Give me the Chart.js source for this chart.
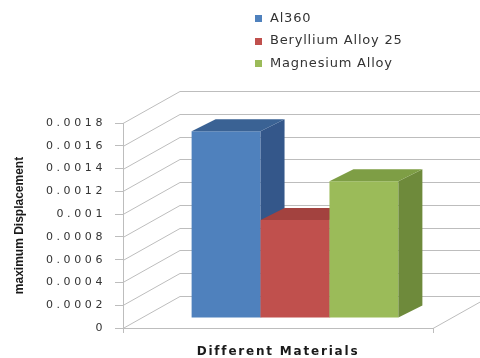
<!DOCTYPE html>
<html>
<head>
<meta charset="utf-8">
<title>Maximum Displacement by Material</title>
<script src="https://cdn.jsdelivr.net/npm/chart.js@4/dist/chart.umd.min.js"></script>
<style>
  html, body { margin: 0; padding: 0; background: #ffffff; }
  #chart { display: block; }
</style>
</head>
<body>
<canvas id="chart" width="480" height="358"></canvas>
<script>
// ---- data ----
const categories = [''];
const seriesNames = ['Al360', 'Beryllium Alloy 25', 'Magnesium Alloy'];
const al360Values = [0.00164];
const berylliumValues = [0.00086];
const magnesiumValues = [0.0012];
const yTickLabels = ['0', '0.0002', '0.0004', '0.0006', '0.0008', '0.001', '0.0012', '0.0014', '0.0016', '0.0018'];

// ---- styling ----
const frontColors = ['#4F81BD', '#C0504D', '#9BBB59'];
const sideColors  = ['#34578A', '#93403D', '#6E8A3B'];
const topColors   = ['#3A6294', '#A3423F', '#7E9E45'];
const gridColor = '#bdbdbd';
const textColor = '#333333';

// oblique projection of the walls and of the bar blocks
const WALL_DX = 57, WALL_DY = -32;   // depth of the plot box
const BAR_DX = 17, BAR_DY = -10;     // bars sit part-way into the box
const DEPTH_DX = 24, DEPTH_DY = -12; // thickness of each bar block

function withSpacing(scale, method, spacing) {
  const key = '_spaced_' + method;
  if (scale[key]) return;
  const original = scale[method];
  scale[method] = function (...args) {
    const ctx = this.ctx;
    ctx.save();
    ctx.letterSpacing = spacing;
    original.apply(this, args);
    ctx.restore();
  };
  scale[key] = true;
}

function drawBlock(ctx, bar, i) {
  const { x, y, base, width } = bar.getProps(['x', 'y', 'base', 'width'], true);
  const l = x - width / 2, r = x + width / 2;
  const top = Math.min(y, base), bottom = Math.max(y, base);
  // front face via the library's own bar element
  bar.draw(ctx);
  // right side face
  ctx.fillStyle = sideColors[i];
  ctx.beginPath();
  ctx.moveTo(r, top);
  ctx.lineTo(r + DEPTH_DX, top + DEPTH_DY);
  ctx.lineTo(r + DEPTH_DX, bottom + DEPTH_DY);
  ctx.lineTo(r, bottom);
  ctx.closePath();
  ctx.fill();
  // top face
  ctx.fillStyle = topColors[i];
  ctx.beginPath();
  ctx.moveTo(l, top);
  ctx.lineTo(l + DEPTH_DX, top + DEPTH_DY);
  ctx.lineTo(r + DEPTH_DX, top + DEPTH_DY);
  ctx.lineTo(r, top);
  ctx.closePath();
  ctx.fill();
}

const boxPlugin = {
  id: 'box3d',
  beforeDraw(chart) {
    withSpacing(chart.scales.y, 'drawLabels', '3.6px');
    withSpacing(chart.scales.x, 'drawTitle', '1.8px');
  },
  beforeDatasetsDraw(chart) {
    const { ctx, chartArea, scales: { y } } = chart;
    const W = chart.width;
    ctx.save();
    ctx.strokeStyle = gridColor;
    ctx.lineWidth = 1;
    // side wall diagonals + back wall grid lines
    y.ticks.forEach(t => {
      const py = Math.round(y.getPixelForValue(t.value)) + 0.5;
      ctx.beginPath();
      ctx.moveTo(chartArea.left, py);
      ctx.lineTo(chartArea.left + WALL_DX, py + WALL_DY);
      ctx.lineTo(W, py + WALL_DY);
      ctx.stroke();
    });
    // right edge of the floor
    const by = Math.round(chartArea.bottom) + 0.5;
    ctx.beginPath();
    ctx.moveTo(chartArea.right, by);
    ctx.lineTo(chartArea.right + WALL_DX, by + WALL_DY);
    ctx.stroke();
    ctx.restore();
  },
  // blocks are painted left to right below, so that nearer faces overlap correctly
  beforeDatasetDraw() {
    return false;
  },
  afterDatasetsDraw(chart) {
    const ctx = chart.ctx;
    ctx.save();
    ctx.translate(BAR_DX, BAR_DY);
    chart.data.datasets.forEach((ds, i) => {
      const meta = chart.getDatasetMeta(i);
      if (meta.hidden) return;
      meta.data.forEach(bar => drawBlock(ctx, bar, i));
    });
    ctx.restore();
  },
  afterDraw(chart) {
    // stacked legend above the plot
    const ctx = chart.ctx;
    ctx.save();
    ctx.font = '13px "DejaVu Sans", sans-serif';
    ctx.letterSpacing = '0.8px';
    ctx.textBaseline = 'middle';
    ctx.textAlign = 'left';
    chart.data.datasets.forEach((ds, i) => {
      const cy = 18 + i * 22.5;
      ctx.fillStyle = ds.backgroundColor;
      ctx.fillRect(255, Math.round(cy) - 3, 7, 7);
      ctx.fillStyle = textColor;
      ctx.fillText(ds.label, 270, cy + 0.5);
    });
    ctx.restore();
  }
};

const seriesValues = [al360Values, berylliumValues, magnesiumValues];
const datasets = seriesNames.map((name, i) => ({
  label: name,
  data: seriesValues[i],
  backgroundColor: frontColors[i],
  borderWidth: 0,
  clip: false
}));

new Chart(document.getElementById('chart'), {
  type: 'bar',
  data: { labels: categories, datasets },
  plugins: [boxPlugin],
  options: {
    responsive: false,
    animation: false,
    devicePixelRatio: 1,
    categoryPercentage: 0.667,
    barPercentage: 1.0,
    layout: { padding: { top: 123, right: 47, bottom: 0, left: 0 } },
    plugins: {
      legend: { display: false },
      tooltip: { enabled: false }
    },
    scales: {
      x: {
        offset: true,
        grid: { display: true, drawOnChartArea: false, drawTicks: true, tickLength: 5, color: gridColor, offset: true },
        border: { display: true, color: gridColor },
        ticks: { display: false },
        title: {
          display: true,
          text: 'Different Materials',
          color: '#1a1a1a',
          font: { family: '"DejaVu Sans", sans-serif', weight: 'bold', size: 12, lineHeight: 1 },
          padding: { top: 0, bottom: 0 }
        },
        afterFit(scale) { scale.height = 30; }
      },
      y: {
        min: 0,
        max: 0.0018,
        grid: { display: true, drawOnChartArea: false, drawTicks: true, tickLength: 8, color: gridColor },
        border: { display: true, color: gridColor },
        ticks: {
          stepSize: 0.0002,
          padding: 9,
          color: textColor,
          font: { family: '"DejaVu Sans", sans-serif', size: 11 },
          callback: (value, index) => yTickLabels[index]
        },
        title: {
          display: true,
          text: 'maximum Displacement',
          color: '#1a1a1a',
          font: { family: '"Liberation Sans", Arial, sans-serif', weight: 'bold', size: 12 },
          padding: { top: 12, bottom: 0 }
        },
        afterFit(scale) { scale.width = 123; }
      }
    }
  }
});
</script>
</body>
</html>
